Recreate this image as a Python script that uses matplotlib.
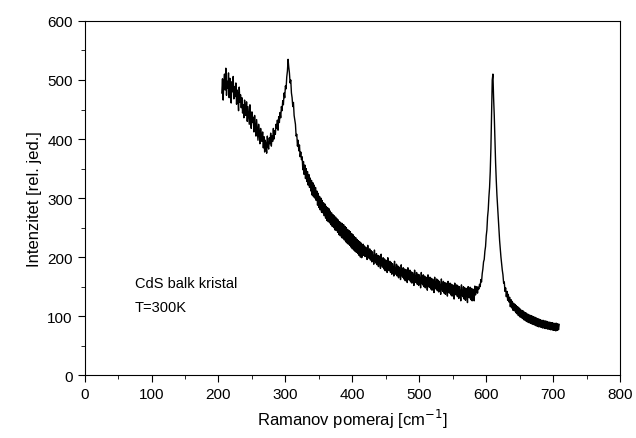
import numpy as np
import matplotlib
matplotlib.use('Agg')
import matplotlib.pyplot as plt
from matplotlib.ticker import MultipleLocator

plt.rcParams['font.family'] = ['Liberation Sans', 'DejaVu Sans']

# Ramanov spektar CdS (ocitano sa slike), korak 1 cm^-1 od 205
x_start = 205
x_step = 1
intenzitet = [
    478, 502, 466, 495, 510, 483, 520, 474, 498, 486,
    512, 470, 503, 488, 461, 497, 480, 506, 468, 489,
    472, 495, 459, 483, 470, 448, 488, 462, 475, 453,
    470, 444, 458, 436, 466, 451, 440, 463, 430, 455,
    441, 425, 458, 432, 418, 446, 428, 437, 412, 440,
    420, 405, 433, 415, 398, 425, 410, 392, 418, 403,
    396, 412, 385, 404, 378, 398, 390, 376, 405, 388,
    383, 402, 392, 410, 388, 405, 396, 418, 400, 414,
    408, 425, 418, 432, 415, 438, 428, 445, 436, 455,
    448, 465, 458, 478, 470, 490, 485, 505, 515, 535,
    522, 512, 495, 500, 478, 470, 455, 462, 440, 432,
    425, 405, 408, 388, 398, 380, 390, 370, 378, 365,
    370, 348, 362, 340, 356, 333, 350, 328, 345, 322,
    340, 318, 334, 312, 330, 305, 326, 302, 322, 300,
    318, 296, 312, 288, 308, 284, 303, 280, 300, 276,
    296, 275, 292, 270, 290, 266, 286, 262, 284, 260,
    282, 258, 278, 255, 275, 252, 272, 250, 270, 246,
    268, 245, 265, 242, 263, 238, 260, 236, 258, 233,
    257, 232, 255, 229, 252, 226, 250, 224, 247, 222,
    245, 220, 243, 217, 240, 214, 238, 212, 235, 210,
    233, 208, 230, 206, 228, 203, 226, 200, 224, 199,
    205, 222, 203, 219, 201, 217, 208, 196, 220, 204,
    198, 214, 195, 211, 192, 209, 200, 188, 212, 196,
    190, 206, 187, 203, 184, 202, 193, 181, 205, 188,
    183, 199, 180, 197, 177, 195, 186, 174, 199, 181,
    177, 193, 174, 191, 171, 189, 180, 168, 193, 175,
    171, 188, 168, 185, 165, 183, 174, 162, 187, 170,
    166, 182, 163, 180, 160, 179, 169, 157, 182, 165,
    161, 178, 158, 175, 156, 174, 165, 152, 178, 161,
    157, 174, 154, 171, 152, 170, 161, 148, 174, 157,
    153, 170, 150, 168, 148, 166, 157, 144, 170, 153,
    149, 166, 146, 164, 144, 163, 154, 140, 166, 149,
    146, 163, 143, 161, 141, 159, 150, 137, 163, 146,
    142, 159, 139, 157, 137, 156, 147, 134, 159, 142,
    139, 156, 136, 154, 134, 153, 144, 129, 156, 139,
    136, 153, 133, 151, 130, 150, 141, 126, 153, 136,
    133, 150, 129, 148, 127, 147, 138, 123, 150, 133,
    131, 149, 128, 147, 126, 146, 137, 126, 151, 136,
    142, 150, 139, 149, 146, 154, 150, 162, 158, 172,
    180, 192, 196, 210, 218, 236, 246, 268, 280, 302,
    318, 345, 385, 440, 500, 510, 470, 440, 400, 360,
    330, 305, 285, 265, 245, 228, 213, 200, 188, 178,
    170, 156, 158, 142, 148, 133, 142, 127, 137, 124,
    132, 116, 128, 114, 125, 110, 122, 109, 120, 106,
    118, 104, 116, 101, 114, 99, 112, 98, 110, 96,
    109, 94, 107, 93, 106, 91, 104, 90, 103, 89,
    102, 88, 101, 87, 100, 86, 99, 85, 98, 84,
    97, 83, 96, 82, 95, 82, 94, 81, 93, 80,
    93, 80, 92, 79, 92, 79, 91, 78, 90, 78,
    90, 77, 89, 77, 89, 76, 88, 76, 88, 75,
    88, 76, 87, 77, 86,
]
pomeraj = x_start + x_step * np.arange(len(intenzitet))

fig = plt.figure(figsize=(6.36, 4.39), dpi=100)
ax = fig.add_axes([0.133, 0.143, 0.842, 0.807])
ax.plot(pomeraj, intenzitet, color='black', lw=1.0)

ax.set_xlim(0, 800)
ax.set_ylim(0, 600)
ax.xaxis.set_major_locator(MultipleLocator(100))
ax.xaxis.set_minor_locator(MultipleLocator(50))
ax.yaxis.set_major_locator(MultipleLocator(100))
ax.yaxis.set_minor_locator(MultipleLocator(50))
ax.tick_params(which='major', direction='out', length=5, labelsize=11)
ax.tick_params(which='minor', direction='out', length=3)

ax.set_xlabel('Ramanov pomeraj [cm$^{-1}$]', fontsize=12)
ax.set_ylabel('Intenzitet [rel. jed.]', fontsize=12)

ax.text(75, 150, 'CdS balk kristal', fontsize=10.5)
ax.text(75, 109, 'T=300K', fontsize=10.5)

fig.savefig('out.png', dpi=100)
